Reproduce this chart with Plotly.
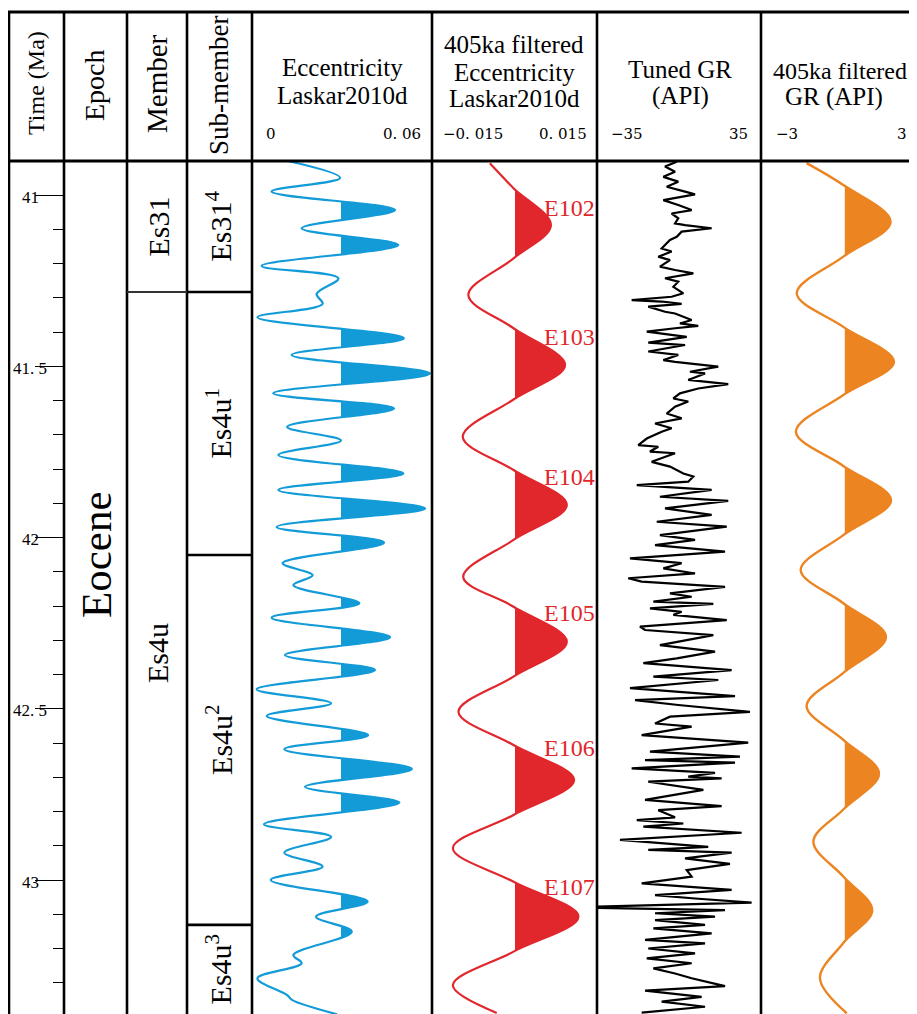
import plotly.graph_objects as go

# The page body has an 8 px margin, so the figure is drawn 8 px in from the window corner.
OFF = 8
WIN_W, WIN_H = 917, 1014
W, H = WIN_W - OFF, WIN_H - OFF

# ------------------------------------------------------------------ data
# Eccentricity (Laskar2010d), read at turning points
ecc_time = [40.900, 40.950, 40.990, 41.044, 41.097, 41.146, 41.207, 41.243, 41.289, 41.318,
            41.357, 41.418, 41.467, 41.521, 41.579, 41.623, 41.677, 41.717, 41.759, 41.813,
            41.861, 41.915, 41.969, 42.015, 42.075, 42.110, 42.139, 42.192, 42.234, 42.291,
            42.343, 42.387, 42.443, 42.484, 42.521, 42.577, 42.618, 42.676, 42.728, 42.774,
            42.837, 42.874, 42.920, 42.961, 43.000, 43.063, 43.107, 43.151, 43.219, 43.243,
            43.287, 43.336, 43.350, 43.392]
ecc_val = [0.0109, 0.0297, 0.0055, 0.0491, 0.0161, 0.0502, 0.0020, 0.0291, 0.0214, 0.0235,
           0.0005, 0.0522, 0.0126, 0.0614, 0.0061, 0.0487, 0.0110, 0.0300, 0.0079, 0.0520,
           0.0079, 0.0597, 0.0073, 0.0452, 0.0094, 0.0200, 0.0132, 0.0365, 0.0055, 0.0473,
           0.0102, 0.0420, 0.0002, 0.0265, 0.0038, 0.0396, 0.0100, 0.0550, 0.0173, 0.0506,
           0.0028, 0.0265, 0.0100, 0.0235, 0.0052, 0.0394, 0.0212, 0.0338, 0.0132, 0.0161,
           0.0005, 0.0110, 0.0127, 0.0286]
ecc_fill_threshold = 0.03

# 405 ka filtered eccentricity
filt_ecc_time = [40.907, 40.980, 41.088, 41.185, 41.292, 41.389, 41.496, 41.597, 41.706, 41.803,
                 41.905, 42.007, 42.115, 42.202, 42.304, 42.406, 42.509, 42.606, 42.708, 42.810,
                 42.907, 43.005, 43.107, 43.209, 43.307, 43.388]
filt_ecc_val = [-0.0055, 0.0, 0.0087, 0.0, -0.0105, 0.0, 0.0120, 0.0, -0.0118, 0.0,
                0.0124, 0.0, -0.0117, 0.0, 0.0124, 0.0, -0.0128, 0.0, 0.0141, 0.0,
                -0.0141, 0.0, 0.0151, 0.0, -0.0141, -0.0039]

# Tuned GR (API)
gr_time = [40.903, 40.917, 40.932, 40.947, 40.961, 40.976, 40.990, 40.998, 41.015, 41.029,
           41.044, 41.054, 41.068, 41.083, 41.088, 41.097, 41.107, 41.122, 41.131, 41.156,
           41.165, 41.180, 41.190, 41.209, 41.219, 41.229, 41.243, 41.253, 41.268, 41.287,
           41.297, 41.307, 41.311, 41.318, 41.326, 41.341, 41.346, 41.365, 41.375, 41.382,
           41.389, 41.399, 41.414, 41.431, 41.438, 41.457, 41.467, 41.482, 41.487, 41.501,
           41.516, 41.521, 41.540, 41.552, 41.565, 41.579, 41.594, 41.603, 41.618, 41.638,
           41.652, 41.667, 41.681, 41.691, 41.711, 41.730, 41.735, 41.749, 41.754, 41.779,
           41.793, 41.813, 41.822, 41.837, 41.847, 41.861, 41.881, 41.893, 41.915, 41.934,
           41.954, 41.968, 41.993, 42.007, 42.022, 42.041, 42.061, 42.075, 42.090, 42.105,
           42.119, 42.129, 42.144, 42.163, 42.173, 42.187, 42.194, 42.207, 42.217, 42.226,
           42.241, 42.260, 42.270, 42.285, 42.314, 42.333, 42.353, 42.367, 42.387, 42.406,
           42.416, 42.440, 42.463, 42.475, 42.489, 42.509, 42.523, 42.543, 42.552, 42.577,
           42.599, 42.625, 42.640, 42.650, 42.657, 42.674, 42.687, 42.698, 42.703, 42.713,
           42.737, 42.766, 42.784, 42.796, 42.817, 42.825, 42.835, 42.844, 42.862, 42.883,
           42.903, 42.912, 42.920, 42.937, 42.953, 42.971, 42.990, 43.010, 43.029, 43.044,
           43.054, 43.066, 43.080, 43.088, 43.097, 43.107, 43.117, 43.131, 43.141, 43.156,
           43.175, 43.185, 43.200, 43.214, 43.229, 43.243, 43.258, 43.273, 43.287, 43.310,
           43.323, 43.341, 43.355, 43.370, 43.387]
gr_val = [-1.2, -7.4, -2.1, -8.3, -0.4, -6.5, 3.2, 8.5, -8.3, -0.4,
          6.7, -3.9, -0.4, -2.1, 3.2, 17.3, 1.4, -1.2, -4.8, -9.2,
          -3.9, -11.0, -4.8, -10.1, -2.1, 7.6, -7.4, -0.4, -3.0, 2.3,
          -3.9, -25.1, -9.2, 1.4, -16.3, -7.4, -2.1, 6.7, 0.5, 10.2,
          -2.1, -17.1, 4.1, -16.3, 3.2, -16.3, -0.4, -8.3, -2.1, 20.8,
          5.8, 13.8, 4.9, 26.1, 10.2, 0.5, -3.0, 4.9, -2.1, -6.5,
          1.4, -12.7, -3.9, -9.2, -17.1, -21.6, -11.0, -15.4, -2.1, -14.5,
          -4.8, 2.3, 7.6, 4.9, -22.4, 17.3, -10.1, 26.1, -7.4, 17.3,
          -11.8, 25.3, -10.1, 8.5, -12.7, 24.4, -26.0, 1.4, -8.3, 8.5,
          -26.9, -19.8, 24.4, -4.8, 6.7, -13.6, 18.2, -15.4, 1.4, -3.0,
          25.3, -20.7, -18.0, 18.2, -10.1, 19.1, -1.2, -18.9, 27.9, -13.6,
          20.8, -26.0, 29.7, -23.3, -0.4, 37.6, -4.8, -12.7, 6.7, -19.8,
          36.7, -15.4, 32.3, -18.0, 29.7, -25.1, 19.1, 4.9, 22.6, -16.3,
          12.9, -18.0, 22.6, -11.0, -2.1, -22.4, 2.3, -18.9, 33.2, -31.3,
          15.5, -16.3, 27.9, 3.2, 27.0, 4.1, 6.7, -19.8, 27.9, -12.7,
          8.5, 38.5, -60.0, 24.4, -12.7, 19.1, -12.7, 13.8, -13.6, 17.3,
          -18.0, 13.8, -16.3, 8.5, -17.1, 6.7, -13.6, -2.1, 6.7, 24.4,
          -18.0, 12.0, -9.2, 13.8, -19.8]

# 405 ka filtered GR (API)
filt_gr_time = [40.907, 40.971, 41.078, 41.180, 41.287, 41.385, 41.487, 41.584, 41.691, 41.791,
                41.891, 41.993, 42.095, 42.192, 42.290, 42.395, 42.492, 42.591, 42.689, 42.794,
                42.888, 42.990, 43.088, 43.184, 43.287, 43.389]
filt_gr_val = [-1.79, 0.0, 2.31, 0.0, -2.27, 0.0, 2.47, 0.0, -2.31, 0.0,
               2.33, 0.0, -2.08, 0.0, 2.08, 0.0, -1.79, 0.0, 1.74, 0.0,
               -1.46, 0.0, 1.41, 0.0, -1.14, 0.17]

cycle_labels = ["E102", "E103", "E104", "E105", "E106", "E107"]
cycle_label_time = [41.038, 41.415, 41.823, 42.220, 42.615, 43.020]

time_ticks = [41, 41.5, 42, 42.5, 43]
time_tick_labels = ["41", "41. 5", "42", "42. 5", "43"]

time_top, time_bottom = 40.9007, 43.3912
member_names = ["Es31", "Es4u"]
member_bounds = [time_top, 41.283, time_bottom]
submember_names = ["Es31<sup>4</sup>", "Es4u<sup>1</sup>", "Es4u<sup>2</sup>", "Es4u<sup>3</sup>"]
submember_bounds = [time_top, 41.283, 42.051, 43.131, time_bottom]
epoch_name = "Eocene"

# ------------------------------------------------------------------ layout helpers
SERIF = "Liberation Serif, Times New Roman, serif"
NUMFONT = "DejaVu Serif, serif"
BLUE, RED, ORANGE = "#139bd8", "#e1262c", "#ec8422"


def px(x):          # window pixel -> paper x
    return (x - OFF) / W


def py(y):          # window pixel -> paper y
    return 1 - (y - OFF) / H


TOP, HDR, BOT = 12, 161, WIN_H
col_x = [9, 64, 127, 187, 252, 432, 597, 761]

# track pixel geometry (window px): (left, right, pixel of value 0, pixels per unit)
ECC = (252, 432, 256.0, 2833.0)
FEC = (432, 597, 513.5, 4300.0)
GRT = (597, 761, 679.0, 1.886)
FGR = (761, 917, 843.3, 20.5)


def rng(tr, left=None):
    l, r, z, s = tr
    l = l if left is None else left
    return [(l - z) / s, (r - z) / s]


def thr_px(tr, v):
    return tr[2] + v * tr[3]


fig = go.Figure()

# fill clip edges; the zero-baseline ones sit 1.5 px right so the closing edge stays hidden
ecc_thr_px = thr_px(ECC, ecc_fill_threshold)
fec_thr_px = thr_px(FEC, 0.0) + 1.5
fgr_thr_px = thr_px(FGR, 0.0) + 1.5

# fills (each clipped to the part right of its threshold by its own x axis)
fig.add_trace(go.Scatter(x=ecc_val, y=ecc_time, xaxis="x2", yaxis="y", mode="lines",
                         line=dict(width=0, shape="spline", color=BLUE), fill="tozerox",
                         fillcolor=BLUE, hoverinfo="skip"))
fig.add_trace(go.Scatter(x=filt_ecc_val, y=filt_ecc_time, xaxis="x4", yaxis="y", mode="lines",
                         line=dict(width=0, shape="spline", color=RED), fill="tozerox",
                         fillcolor=RED, hoverinfo="skip"))
fig.add_trace(go.Scatter(x=filt_gr_val, y=filt_gr_time, xaxis="x7", yaxis="y", mode="lines",
                         line=dict(width=0, shape="spline", color=ORANGE), fill="tozerox",
                         fillcolor=ORANGE, hoverinfo="skip"))

# curves
fig.add_trace(go.Scatter(x=ecc_val, y=ecc_time, xaxis="x", yaxis="y", mode="lines",
                         line=dict(width=2.2, shape="spline", color=BLUE)))
fig.add_trace(go.Scatter(x=filt_ecc_val, y=filt_ecc_time, xaxis="x3", yaxis="y", mode="lines",
                         line=dict(width=2.2, shape="spline", color=RED)))
fig.add_trace(go.Scatter(x=gr_val, y=gr_time, xaxis="x5", yaxis="y", mode="lines",
                         line=dict(width=2.2, color="black")))
fig.add_trace(go.Scatter(x=filt_gr_val, y=filt_gr_time, xaxis="x6", yaxis="y", mode="lines",
                         line=dict(width=2.4, shape="spline", color=ORANGE)))

hidden = dict(visible=False, anchor="y", showgrid=False, zeroline=False, fixedrange=True)

fig.update_layout(
    width=W, height=H, margin=dict(l=0, r=0, t=0, b=0),
    paper_bgcolor="white", plot_bgcolor="rgba(0,0,0,0)", showlegend=False,
    xaxis=dict(domain=[px(ECC[0]), px(ECC[1])], range=rng(ECC), **hidden),
    xaxis2=dict(domain=[px(ecc_thr_px), px(ECC[1])], range=rng(ECC, ecc_thr_px), **hidden),
    xaxis3=dict(domain=[px(FEC[0]), px(FEC[1])], range=rng(FEC), **hidden),
    xaxis4=dict(domain=[px(fec_thr_px), px(FEC[1])], range=rng(FEC, fec_thr_px), **hidden),
    xaxis5=dict(domain=[px(GRT[0]), px(GRT[1])], range=rng(GRT), **hidden),
    xaxis6=dict(domain=[px(FGR[0]), px(FGR[1])], range=rng(FGR), **hidden),
    xaxis7=dict(domain=[px(fgr_thr_px), px(FGR[1])], range=rng(FGR, fgr_thr_px), **hidden),
    yaxis=dict(domain=[0, py(HDR)], range=[time_bottom, time_top], anchor="free",
               position=px(col_x[1]), side="left", showgrid=False, zeroline=False,
               showline=False, showticklabels=False, ticks="outside", tickmode="array",
               tickvals=time_ticks, ticklen=29, tickwidth=1, tickcolor="black",
               minor=dict(tickmode="linear", tick0=41, dtick=0.1, ticks="outside",
                          ticklen=11, tickwidth=1, tickcolor="black"),
               fixedrange=True),
)

shapes = []
LW = 2.6
for x in col_x:
    shapes.append(dict(type="line", xref="paper", yref="paper", x0=px(x), x1=px(x),
                       y0=py(TOP), y1=0, line=dict(color="black", width=LW)))
for y in (TOP, HDR):
    shapes.append(dict(type="line", xref="paper", yref="paper", x0=px(col_x[0] - 1), x1=1,
                       y0=py(y), y1=py(y), line=dict(color="black", width=3)))
for b in member_bounds[1:-1]:
    shapes.append(dict(type="line", xref="paper", yref="y", x0=px(col_x[2]), x1=px(col_x[3]),
                       y0=b, y1=b, line=dict(color="#333", width=2)))
for b in submember_bounds[1:-1]:
    shapes.append(dict(type="line", xref="paper", yref="y", x0=px(col_x[3]), x1=px(col_x[4]),
                       y0=b, y1=b, line=dict(color="black", width=2.6)))
fig.update_layout(shapes=shapes)

ann = []


def text(x, y, s, size, color="black", angle=0, xanchor="center", yref="paper", yv=None,
         family=SERIF):
    ann.append(dict(x=px(x), xref="paper", y=(py(y) if yv is None else yv), yref=yref,
                    text=s, showarrow=False, textangle=angle, xanchor=xanchor,
                    yanchor="middle", font=dict(family=family, size=size, color=color)))


# rotated header labels
text(36, 83, "Time (Ma)", 24, angle=-90)
text(94, 85, "Epoch", 28, angle=-90)
text(157, 84, "Member", 29, angle=-90)
text(219, 86, "Sub-member", 27, angle=-90)

# track headers (one annotation per line)
HS = 25
text(342, 67, "Eccentricity", HS)
text(342, 95, "Laskar2010d", HS)
text(514, 45, "405ka filtered", HS)
text(514, 72, "Eccentricity", HS)
text(514, 99, "Laskar2010d", HS)
text(680, 69, "Tuned GR", HS)
text(680, 96, "(API)", HS)
text(840, 71, "405ka filtered", 24)
text(834, 97, "GR (API)", HS)

# header scale labels
TY = 134
TS = 15
text(264, TY, "0", TS, xanchor="left", family=NUMFONT)
text(423, TY, "0. 06", TS, xanchor="right", family=NUMFONT)
text(441, TY, "\u22120. 015", TS, xanchor="left", family=NUMFONT)
text(589, TY, "0. 015", TS, xanchor="right", family=NUMFONT)
text(609, TY, "\u221235", TS, xanchor="left", family=NUMFONT)
text(750, TY, "35", TS, xanchor="right", family=NUMFONT)
text(774, TY, "\u22123", TS, xanchor="left", family=NUMFONT)
text(909, TY, "3", TS, xanchor="right", family=NUMFONT)

# time tick labels
for v, s in zip(time_ticks, time_tick_labels):
    ann.append(dict(x=px(30), xref="paper", y=v, yref="y", text=s, showarrow=False,
                    xanchor="center", yanchor="middle", yshift=-2,
                    font=dict(family=SERIF, size=17, color="black")))

# epoch
text(96, 555, epoch_name, 43, angle=-90)

# members / sub-members
for i, name in enumerate(member_names):
    mid = (member_bounds[i] + member_bounds[i + 1]) / 2
    text(158, 0, name, 30, angle=-90, yref="y", yv=mid)
for i, name in enumerate(submember_names):
    mid = (submember_bounds[i] + submember_bounds[i + 1]) / 2
    text(219, 0, name, 30, angle=-90, yref="y", yv=mid)

# cycle labels
for name, t in zip(cycle_labels, cycle_label_time):
    text(597, 0, name, 24, color=RED, xanchor="right", yref="y", yv=t)

fig.update_layout(annotations=ann)
fig.write_html("out.html")
